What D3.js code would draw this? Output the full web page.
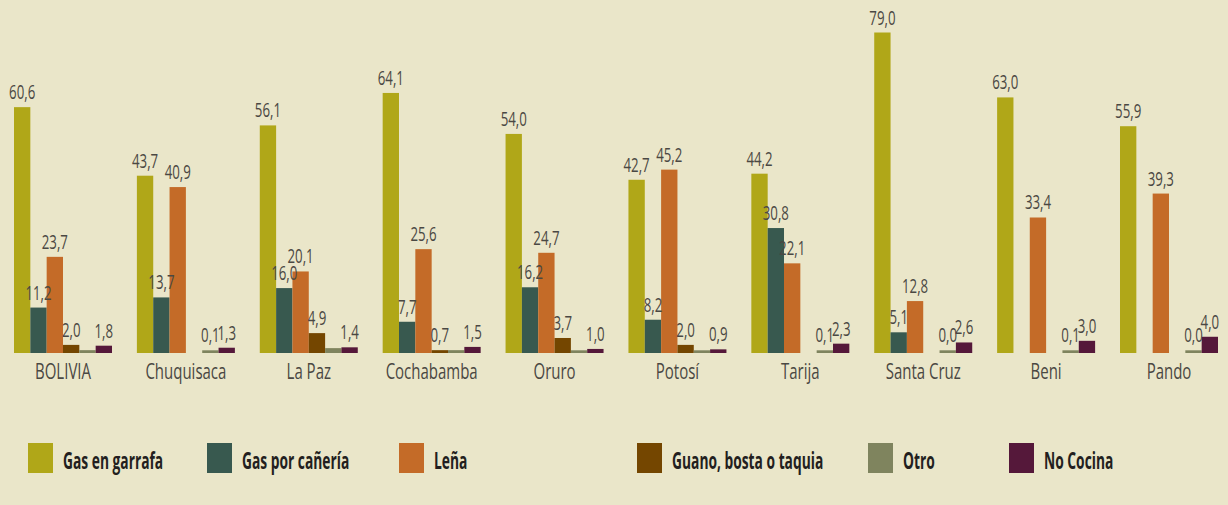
<!DOCTYPE html>
<html>
<head>
<meta charset="utf-8">
<script src="https://cdn.jsdelivr.net/npm/d3@7/dist/d3.min.js"></script>
<style>
  body { margin: 0; background: #eae6c9; }
  svg { display: block; }
  .lbl { font-family: "Open Sans", sans-serif; fill: #4a4843; }
  .leg { font-family: "Open Sans", sans-serif; font-weight: bold; fill: #231f20; }
</style>
</head>
<body>
<svg></svg>
<script>
const categories = ['BOLIVIA', 'Chuquisaca', 'La Paz', 'Cochabamba', 'Oruro', 'Potosí', 'Tarija', 'Santa Cruz', 'Beni', 'Pando'];
const seriesNames = ['Gas en garrafa', 'Gas por cañería', 'Leña', 'Guano, bosta o taquia', 'Otro', 'No Cocina'];
const garrafa = [60.6, 43.7, 56.1, 64.1, 54.0, 42.7, 44.2, 79.0, 63.0, 55.9];
const caneria = [11.2, 13.7, 16.0, 7.7, 16.2, 8.2, 30.8, 5.1, null, null];
const lena    = [23.7, 40.9, 20.1, 25.6, 24.7, 45.2, 22.1, 12.8, 33.4, 39.3];
const guano   = [2.0, null, 4.9, 0.7, 3.7, 2.0, null, null, null, null];
const otro    = [0.7, 0.1, 1.2, 0.7, 0.6, 0.6, 0.1, 0.0, 0.1, 0.0];
const noCocina = [1.8, 1.3, 1.4, 1.5, 1.0, 0.9, 2.3, 2.6, 3.0, 4.0];
// otro values with no printed label in the source
const otroLabeled = [false, true, false, false, false, false, true, true, true, true];
const colors = ['#b0a718', '#38594f', '#c46b28', '#744600', '#7f845e', '#55183a'];

const run = () => {
  const W = 1228, H = 505;
  const svg = d3.select('svg').attr('width', W).attr('height', H);
  const series = [garrafa, caneria, lena, guano, otro, noCocina];

  const x0 = d3.scaleBand().domain(categories)
    .range([14, 1218]).paddingInner(0.2026).paddingOuter(0);
  const x1 = d3.scaleBand().domain(d3.range(series.length))
    .range([0, x0.bandwidth()]);
  const y = d3.scaleLinear().domain([0, 79]).range([353, 32.5]);

  const fmt = v => d3.format('.1f')(v).replace('.', ',');
  const minH = 2.7;
  const top = v => Math.min(y(v), y(0) - minH);

  const cells = [];
  categories.forEach((c, i) => {
    series.forEach((s, k) => {
      if (s[i] == null) return;
      cells.push({ c, k, v: s[i], show: k !== 4 || otroLabeled[i] });
    });
  });

  const g = svg.append('g');
  g.selectAll('rect.bar')
    .data(cells)
    .enter()
    .append('rect')
    .attr('class', 'bar')
    .attr('x', d => x0(d.c) + x1(d.k))
    .attr('width', x1.bandwidth())
    .attr('y', d => top(d.v))
    .attr('height', d => y(0) - top(d.v))
    .attr('fill', d => colors[d.k]);

  // value labels (condensed look via horizontal scale)
  g.selectAll('g.val')
    .data(cells.filter(d => d.show))
    .enter()
    .append('g')
    .attr('class', 'val')
    .attr('transform', d => `translate(${x0(d.c) + x1(d.k) + x1.bandwidth() / 2},${top(d.v) - 8}) scale(0.68,1)`)
    .append('text')
    .attr('class', 'lbl')
    .attr('text-anchor', 'middle')
    .style('font-size', '19.5px')
    .text(d => fmt(d.v));

  // category labels
  svg.selectAll('g.cat')
    .data(categories)
    .enter()
    .append('g')
    .attr('class', 'cat')
    .attr('transform', d => `translate(${x0(d) + x0.bandwidth() / 2},379) scale(0.67,1)`)
    .append('text')
    .attr('class', 'lbl')
    .attr('text-anchor', 'middle')
    .style('font-size', '22.4px')
    .text(d => d);

  // legend
  const legX = [28, 207, 399, 637, 868, 1009];
  const leg = svg.selectAll('g.legend')
    .data(seriesNames)
    .enter()
    .append('g')
    .attr('class', 'legend')
    .attr('transform', (d, i) => `translate(${legX[i]},443)`);
  leg.append('rect')
    .attr('width', 25)
    .attr('height', 30)
    .attr('fill', (d, i) => colors[i]);
  leg.append('g')
    .attr('transform', 'translate(35,26) scale(0.6,1)')
    .append('text')
    .attr('class', 'leg')
    .style('font-size', '23px')
    .text(d => d);
};

window.app = { run };
window.app.run();
</script>
</body>
</html>
